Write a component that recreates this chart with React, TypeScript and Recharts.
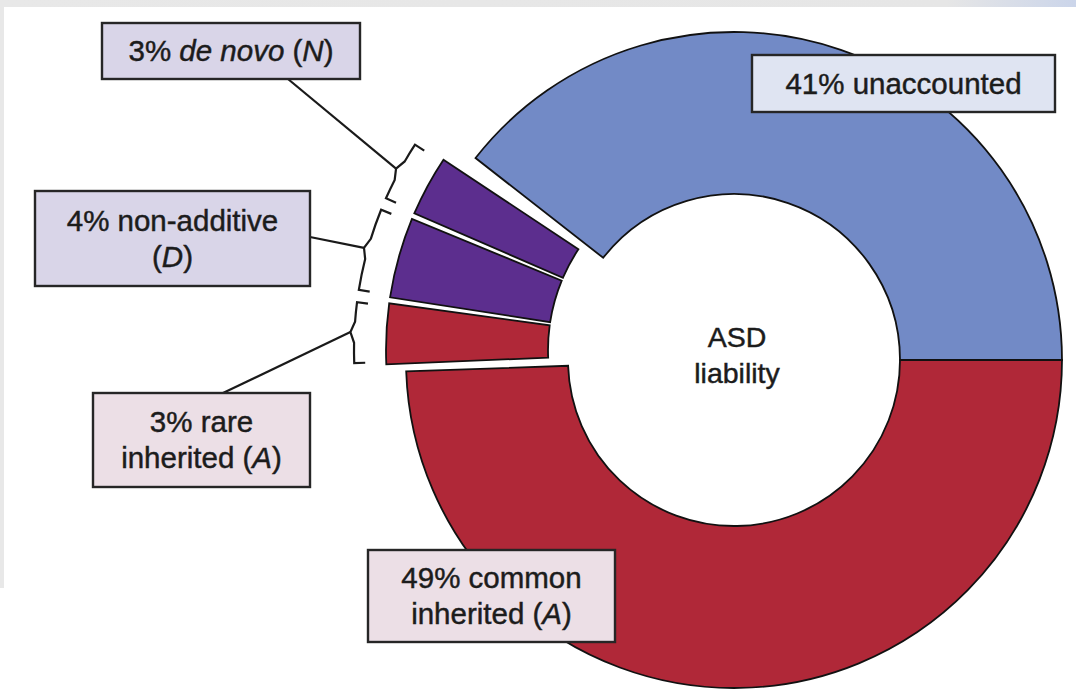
import React from "react";
import { PieChart, Pie, Cell } from "recharts";

// shares of ASD liability, in reading order around the ring
const categories = ["unaccounted", "de novo", "non-additive", "rare inherited", "common inherited"];
const shares = [41, 3, 4, 3, 49];
const colors = ["#728ac6", "#5c2e8e", "#5c2e8e", "#b02838", "#b02838"];
// box text, *...* is italic, {p} is the share
const boxText = [
  ["{p}% unaccounted"],
  ["{p}% *de novo* (*N*)"],
  ["{p}% non-additive", "(*D*)"],
  ["{p}% rare", "inherited (*A*)"],
  ["{p}% common", "inherited (*A*)"],
];
const centerText = ["ASD", "liability"];

const W = 1076;
const H = 692;
const FONT = "'Liberation Sans', Arial, Helvetica, sans-serif";
const MAIN = { cx: 734, cy: 360, inner: 166, outer: 328 };
const SMALL = { cx: 730, cy: 350, inner: 182, outer: 344 };
const TILT = 1.2; // small group sits a bit higher than its share
const BLUE_GAP = 4.4;

// annotation boxes (x, y, w, h, fill, leader anchor on box)
const boxes = [
  { x: 752, y: 55, w: 303, h: 57, fill: "#dfe4f2", anchor: null },
  { x: 102, y: 23, w: 258, h: 56, fill: "#d9d5e8", anchor: [288, 79] },
  { x: 35, y: 191, w: 275, h: 95, fill: "#d9d5e8", anchor: [310, 237] },
  { x: 93, y: 393, w: 217, h: 94, fill: "#ecdfe6", anchor: [223, 393] },
  { x: 368, y: 550, w: 247, h: 92, fill: "#ecdfe6", anchor: null },
];

const total = shares.reduce((a, b) => a + b, 0);
const smallIdx = [1, 2, 3];
const smallSum = smallIdx.reduce((a, i) => a + shares[i], 0);
const SMALL_START = (360 * shares[0]) / total - TILT;
const SMALL_END = SMALL_START + (360 * smallSum) / total;

const blueData = [{ name: categories[0], value: shares[0], idx: 0 }];
const redData = [{ name: categories[4], value: shares[4], idx: 4 }];
const smallData = smallIdx.map((i) => ({ name: categories[i], value: shares[i], idx: i }));

const RAD = Math.PI / 180;
const pt = (cx: number, cy: number, r: number, a: number) => [
  cx + r * Math.cos(-a * RAD),
  cy + r * Math.sin(-a * RAD),
];

const Segs = ({ line }: { line: string }) => (
  <>
    {line.split("*").map((s, k) => (
      <tspan key={k} fontStyle={k % 2 ? "italic" : "normal"}>{s}</tspan>
    ))}
  </>
);

const txt = { fontSize: 29.5, fontFamily: FONT, fill: "#1c1c1c", stroke: "#1c1c1c", strokeWidth: 0.45 };

const Box = ({ i }: { i: number }) => {
  const b = boxes[i];
  const lines = boxText[i].map((l) => l.replace("{p}", String(shares[i])));
  const mid = b.y + b.h / 2;
  return (
    <g>
      <rect x={b.x} y={b.y} width={b.w} height={b.h} fill={b.fill} stroke="#262626" strokeWidth={2.4} />
      {lines.map((l, k) => (
        <text key={k} x={b.x + b.w / 2} y={mid + (k - (lines.length - 1) / 2) * 36 + 10} textAnchor="middle" {...txt}>
          <Segs line={l} />
        </text>
      ))}
    </g>
  );
};

const mainLabel = (props: any) => {
  const i = props.payload?.idx ?? props.idx;
  return (
    <g>
      <Box i={i} />
      {i === 4 &&
        centerText.map((t, k) => (
          <text key={k} x={MAIN.cx + 3} y={MAIN.cy - 13 + k * 36} textAnchor="middle" {...txt} fontSize={28.5}>
            {t}
          </text>
        ))}
    </g>
  );
};

const smallLabel = (props: any) => {
  const { cx, cy, outerRadius, startAngle, endAngle, midAngle } = props;
  const i = props.payload?.idx ?? props.idx;
  const r = outerRadius + 32;
  const a1 = startAngle + 0.5;
  const a2 = endAngle - 0.4;
  const tick = 11;
  const p0 = pt(cx, cy, r - tick, a1);
  const p1 = pt(cx, cy, r, a1);
  const m1 = pt(cx, cy, r, midAngle - 1.6);
  const k = pt(cx, cy, r + 4, midAngle);
  const m2 = pt(cx, cy, r, midAngle + 1.6);
  const p2 = pt(cx, cy, r, a2);
  const p3 = pt(cx, cy, r - tick, a2);
  const d = `M${p0} L${p1} A${r},${r} 0 0 0 ${m1} L${k} L${m2} A${r},${r} 0 0 0 ${p2} L${p3}`;
  const an = boxes[i].anchor as number[];
  return (
    <g>
      <path d={d} fill="none" stroke="#1a1a1a" strokeWidth={2.2} />
      <line x1={an[0]} y1={an[1]} x2={k[0]} y2={k[1]} stroke="#1a1a1a" strokeWidth={2.2} />
      <Box i={i} />
    </g>
  );
};

export default function App() {
  return (
    <div style={{ position: "absolute", left: 0, top: 0, width: W, height: H, background: "#fff", overflow: "hidden" }}>
      <div style={{ position: "absolute", left: 0, top: 0, width: W, height: 7, background: "linear-gradient(90deg, #e8e8e8 0%, #e6e6e6 88%, #cbd5ea 100%)" }} />
      <div style={{ position: "absolute", left: 0, top: 0, width: 4, height: 588, background: "#e8e8e8" }} />
      <div style={{ position: "absolute", left: 0, top: 0 }}>
        <PieChart width={W} height={H} margin={{ top: 0, right: 0, bottom: 0, left: 0 }}>
          <Pie
            data={redData}
            dataKey="value"
            cx={MAIN.cx}
            cy={MAIN.cy}
            innerRadius={MAIN.inner}
            outerRadius={MAIN.outer}
            startAngle={SMALL_END - 0.4}
            endAngle={360}
            label={mainLabel}
            labelLine={false}
            isAnimationActive={false}
          >
            {redData.map((d) => (
              <Cell key={d.name} fill={colors[d.idx]} stroke="#111" strokeWidth={1.8} />
            ))}
          </Pie>
          <Pie
            data={blueData}
            dataKey="value"
            cx={MAIN.cx}
            cy={MAIN.cy}
            innerRadius={MAIN.inner}
            outerRadius={MAIN.outer}
            startAngle={0}
            endAngle={SMALL_START - BLUE_GAP}
            label={mainLabel}
            labelLine={false}
            isAnimationActive={false}
          >
            {blueData.map((d) => (
              <Cell key={d.name} fill={colors[d.idx]} stroke="#111" strokeWidth={1.8} />
            ))}
          </Pie>
          <Pie
            data={smallData}
            dataKey="value"
            cx={SMALL.cx}
            cy={SMALL.cy}
            innerRadius={SMALL.inner}
            outerRadius={SMALL.outer}
            startAngle={SMALL_START}
            endAngle={SMALL_END}
            paddingAngle={1}
            label={smallLabel}
            labelLine={false}
            isAnimationActive={false}
          >
            {smallData.map((d) => (
              <Cell key={d.name} fill={colors[d.idx]} stroke="#111" strokeWidth={1.8} />
            ))}
          </Pie>
        </PieChart>
      </div>
    </div>
  );
}
